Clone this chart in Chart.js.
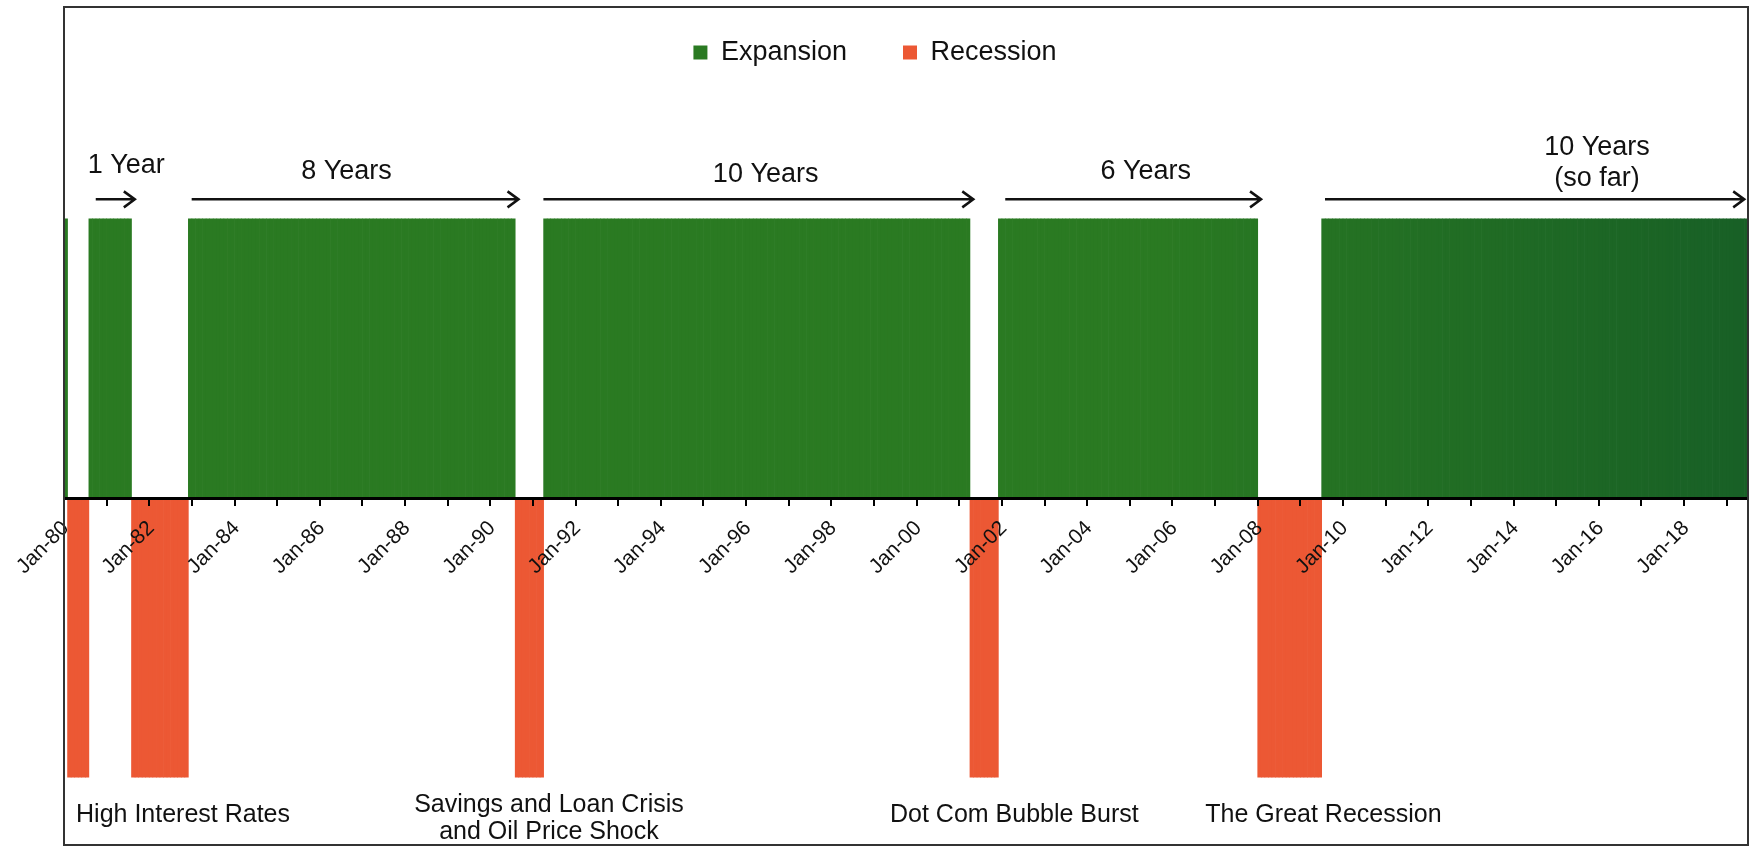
<!DOCTYPE html>
<html>
<head>
<meta charset="utf-8">
<script src="https://cdn.jsdelivr.net/npm/chart.js@4.4.1/dist/chart.umd.min.js"></script>
<style>
  html, body { margin: 0; padding: 0; background: #fff; }
</style>
</head>
<body>
<canvas id="cycleChart" width="1750" height="847"></canvas>
<script>
// monthly categories, Jan-80 .. Jun-19
const monthNames = ['Jan', 'Feb', 'Mar', 'Apr', 'May', 'Jun', 'Jul', 'Aug', 'Sep', 'Oct', 'Nov', 'Dec'];
const firstYear = 1980;
const lastYear = 2019;
const lastMonth = 'Jun';

// recessions (first and last month)
const recessionStart = ['Feb-80', 'Aug-81', 'Aug-90', 'Apr-01', 'Jan-08'];
const recessionEnd = ['Jul-80', 'Nov-82', 'Mar-91', 'Nov-01', 'Jun-09'];

// recession captions under the bars
const causeText = ['High Interest Rates', 'Savings and Loan Crisis\nand Oil Price Shock', 'Dot Com Bubble Burst', 'The Great Recession'];
const causeAt = ['Oct-82', 'May-91', 'Apr-02', 'Jul-09'];
const causeLevel = [-1.135, -1.15, -1.135, -1.135];

// expansion arrows above the bars
const spanText = ['1 Year', '8 Years', '10 Years', '6 Years', '10 Years\n(so far)'];
const spanFrom = ['Oct-80', 'Jan-83', 'Apr-91', 'Feb-02', 'Aug-09'];
const spanTo = ['Sep-81', 'Sep-90', 'May-01', 'Feb-08', 'Jun-19'];
const spanTextAt = ['Jun-81', 'Aug-86', 'Jun-96', 'May-05', 'Dec-15'];
const spanLevel = [1.19, 1.17, 1.158, 1.17, 1.2];

const months = [];
for (let y = firstYear; y <= lastYear; y++) {
    for (const m of monthNames) {
        months.push(m + '-' + String(y).slice(2));
        if (y === lastYear && m === lastMonth) break;
    }
}

const inRecession = months.map(() => false);
recessionStart.forEach((s, i) => {
    const a = months.indexOf(s), b = months.indexOf(recessionEnd[i]);
    for (let k = a; k <= b; k++) inRecession[k] = true;
});
const expansion = months.map((m, i) => inRecession[i] ? null : 1);
const recession = months.map((m, i) => inRecession[i] ? -1 : null);

const FONT = "'Liberation Sans', Arial, sans-serif";
const INK = '#111';

function greenAt(ctx) {
    const t = (ctx.dataIndex || 0) / (months.length - 1);
    const k = t < 0.65 ? 0 : (t - 0.65) / 0.35;
    const r = Math.round(42 - 18 * k), g = Math.round(122 - 26 * k), b = Math.round(34 + 4 * k);
    return `rgb(${r},${g},${b})`;
}

const annotations = {
    id: 'annotations',
    afterDraw(chart) {
        const { ctx, chartArea, scales: { x, y } } = chart;
        ctx.save();

        // frame round the plot
        ctx.strokeStyle = '#333';
        ctx.lineWidth = 2;
        ctx.strokeRect(chartArea.left, 7, chartArea.right - chartArea.left, chartArea.bottom - 7);

        ctx.fillStyle = INK;
        ctx.strokeStyle = INK;
        ctx.textAlign = 'center';
        ctx.textBaseline = 'middle';

        // expansion arrows
        ctx.font = '27px ' + FONT;
        ctx.lineWidth = 2.5;
        spanText.forEach((txt, i) => {
            const x0 = x.getPixelForValue(months.indexOf(spanFrom[i])) - 2;
            const x1 = x.getPixelForValue(months.indexOf(spanTo[i])) - 2;
            const ya = y.getPixelForValue(1.07);
            ctx.beginPath();
            ctx.moveTo(x0, ya);
            ctx.lineTo(x1, ya);
            ctx.moveTo(x1 - 11, ya - 8);
            ctx.lineTo(x1, ya);
            ctx.lineTo(x1 - 11, ya + 8);
            ctx.stroke();
            const lines = txt.split('\n');
            const tx = x.getPixelForValue(months.indexOf(spanTextAt[i]));
            const ty = y.getPixelForValue(spanLevel[i]) - (lines.length - 1) * 31 / 2;
            lines.forEach((l, j) => ctx.fillText(l, tx, ty + j * 31));
        });

        // recession captions
        ctx.font = '25px ' + FONT;
        causeText.forEach((txt, i) => {
            const lines = txt.split('\n');
            const tx = x.getPixelForValue(months.indexOf(causeAt[i]));
            const ty = y.getPixelForValue(causeLevel[i]) - (lines.length - 1) * 27 / 2;
            lines.forEach((l, j) => ctx.fillText(l, tx, ty + j * 27));
        });
        ctx.restore();
    }
};

new Chart(document.getElementById('cycleChart'), {
    type: 'bar',
    data: {
        labels: months,
        datasets: [{
            label: 'Expansion',
            data: expansion,
            backgroundColor: greenAt,
            grouped: false,
            barPercentage: 1,
            categoryPercentage: 1,
            borderWidth: 0
        }, {
            label: 'Recession',
            data: recession,
            backgroundColor: '#EC5834',
            grouped: false,
            barPercentage: 1,
            categoryPercentage: 1,
            borderWidth: 0
        }]
    },
    options: {
        responsive: false,
        animation: false,
        devicePixelRatio: 1,
        layout: { padding: { left: 2, right: 2, top: -17, bottom: 2 } },
        plugins: {
            legend: {
                position: 'top',
                labels: {
                    boxWidth: 14,
                    boxHeight: 14,
                    padding: 56,
                    color: INK,
                    font: { family: FONT, size: 27 }
                }
            },
            tooltip: { enabled: false }
        },
        scales: {
            x: {
                position: { y: 0 },
                afterFit: scale => { scale.paddingRight = 0; },
                grid: {
                    z: 1,
                    drawOnChartArea: false,
                    drawTicks: true,
                    tickLength: 6,
                    color: c => c.index % 12 === 0 ? '#000' : 'rgba(0,0,0,0)',
                    lineWidth: 2
                },
                border: { display: true, color: '#000', width: 3, z: 1 },
                ticks: {
                    z: 1,
                    autoSkip: false,
                    maxRotation: 45,
                    minRotation: 45,
                    padding: 12,
                    color: INK,
                    font: { family: FONT, size: 21 },
                    callback: function (value, index) {
                        return index % 24 === 0 ? this.getLabelForValue(value) : '';
                    }
                }
            },
            y: {
                min: -1.243,
                max: 1.512,
                afterFit: scale => { scale.width = 62; },
                grid: { display: false },
                border: { display: true, color: '#222', width: 2 },
                ticks: { display: false }
            }
        }
    },
    plugins: [annotations]
});
</script>
</body>
</html>
